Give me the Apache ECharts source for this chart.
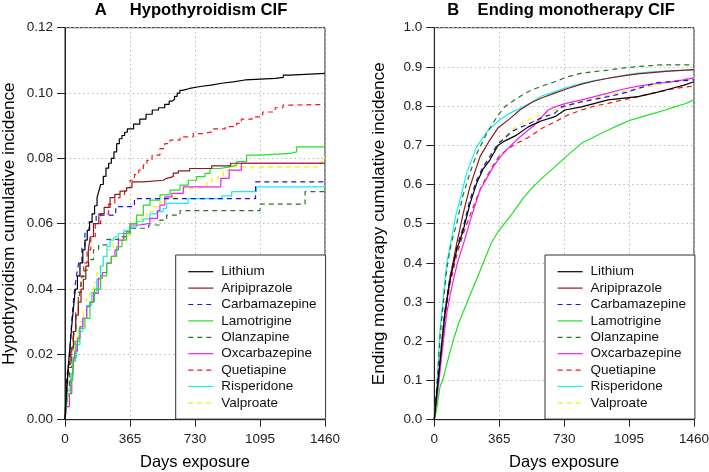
<!DOCTYPE html>
<html>
<head>
<meta charset="utf-8">
<script src="https://cdn.jsdelivr.net/npm/echarts@6/dist/echarts.min.js"></script>
<style>
html,body{margin:0;padding:0;background:#fff;}
#chart{width:709px;height:472px;}
</style>
</head>
<body>
<div id="chart"></div>
<script>
// ---------- data ----------
const drugs = ['Lithium','Aripiprazole','Carbamazepine','Lamotrigine','Olanzapine','Oxcarbazepine','Quetiapine','Risperidone','Valproate'];
const xTicks = [0, 365, 730, 1095, 1460];
const hypoTicks = [0, 0.02, 0.04, 0.06, 0.08, 0.10, 0.12];
const endTicks = [0, 0.1, 0.2, 0.3, 0.4, 0.5, 0.6, 0.7, 0.8, 0.9, 1.0];

// Panel A: Hypothyroidism CIF  [day, cumulative incidence]
const hypoLithium = [[0,0],[4,0.005],[10,0.01],[17,0.015],[24,0.02],[32,0.025],[40,0.03],[49,0.035],[58,0.04],[70,0.044],[84,0.048],[100,0.052],[112,0.055],[125,0.058],[138,0.0605],[152,0.063],[166,0.0655],[180,0.068],[190,0.070],[200,0.072],[215,0.0745],[230,0.077],[245,0.0785],[260,0.080],[275,0.082],[290,0.0845],[305,0.086],[320,0.087],[335,0.088],[350,0.089],[385,0.0905],[420,0.092],[455,0.0935],[490,0.0948],[525,0.0955],[560,0.0965],[585,0.0975],[600,0.098],[615,0.099],[630,0.100],[645,0.1008],[660,0.1014],[700,0.102],[760,0.1024],[820,0.103],[880,0.1034],[945,0.104],[1010,0.1042],[1070,0.1045],[1180,0.1048],[1226,0.1055],[1263,0.106],[1460,0.106]];
const hypoAripiprazole = [[0,0],[5,0.005],[12,0.011],[19,0.017],[33,0.022],[47,0.027],[60,0.032],[75,0.036],[90,0.040],[103,0.043],[117,0.047],[131,0.052],[142,0.056],[160,0.060],[190,0.063],[220,0.065],[253,0.068],[280,0.069],[309,0.070],[346,0.071],[376,0.0728],[440,0.0733],[552,0.0739],[571,0.0744],[608,0.0755],[636,0.0762],[700,0.0769],[824,0.0777],[930,0.0785],[1460,0.0785]];
const hypoCarbamazepine = [[0,0],[5,0.007],[10,0.013],[20,0.017],[28,0.021],[33,0.026],[38,0.0305],[47,0.036],[56,0.0407],[67,0.045],[77,0.048],[95,0.053],[112,0.057],[120,0.058],[135,0.0606],[175,0.0626],[285,0.0652],[390,0.0677],[1070,0.0728],[1460,0.0728]];
const hypoLamotrigine = [[0,0],[8,0.004],[18,0.008],[30,0.012],[44,0.018],[58,0.024],[80,0.028],[112,0.031],[140,0.036],[165,0.040],[200,0.044],[234,0.048],[260,0.050],[290,0.053],[320,0.055],[346,0.057],[365,0.060],[402,0.0626],[440,0.0657],[477,0.0672],[533,0.0688],[590,0.0703],[646,0.0718],[692,0.0733],[739,0.0744],[786,0.0754],[814,0.0769],[870,0.0774],[926,0.078],[964,0.079],[1020,0.081],[1095,0.0815],[1263,0.082],[1301,0.0835],[1460,0.0835]];
const hypoOlanzapine = [[0,0],[5,0.005],[12,0.01],[25,0.016],[38,0.022],[50,0.027],[62,0.032],[75,0.036],[84,0.039],[95,0.0438],[112,0.0458],[133,0.049],[160,0.052],[189,0.0535],[235,0.0552],[300,0.056],[340,0.0575],[365,0.0586],[470,0.0596],[533,0.0611],[571,0.0626],[646,0.064],[1095,0.066],[1348,0.0698],[1460,0.0698]];
const hypoOxcarbazepine = [[0,0],[10,0.004],[25,0.008],[38,0.012],[47,0.017],[56,0.021],[70,0.025],[84,0.0285],[100,0.031],[122,0.0346],[140,0.036],[159,0.0387],[187,0.0433],[210,0.045],[234,0.0479],[260,0.050],[281,0.052],[300,0.055],[330,0.057],[365,0.0596],[420,0.0601],[477,0.0616],[520,0.064],[533,0.0657],[561,0.0682],[600,0.0693],[664,0.0713],[875,0.0739],[922,0.0764],[990,0.0785],[1460,0.0785]];
const hypoQuetiapine = [[0,0],[5,0.005],[10,0.009],[20,0.015],[30,0.02],[45,0.027],[60,0.033],[75,0.039],[90,0.044],[105,0.048],[124,0.052],[145,0.056],[170,0.060],[200,0.063],[245,0.066],[280,0.068],[309,0.069],[335,0.071],[365,0.0733],[390,0.075],[414,0.0764],[440,0.078],[460,0.0794],[489,0.081],[533,0.083],[560,0.0845],[590,0.0856],[646,0.0866],[720,0.0876],[780,0.0882],[833,0.089],[900,0.0897],[964,0.0907],[990,0.092],[1050,0.0927],[1110,0.0942],[1180,0.0955],[1224,0.0963],[1265,0.0965],[1460,0.0965]];
const hypoRisperidone = [[0,0],[5,0.004],[15,0.009],[30,0.014],[47,0.019],[65,0.023],[84,0.027],[100,0.031],[122,0.035],[150,0.039],[178,0.043],[200,0.047],[215,0.050],[235,0.053],[253,0.055],[275,0.056],[300,0.057],[330,0.058],[365,0.059],[402,0.0606],[440,0.0615],[477,0.063],[515,0.0637],[552,0.0647],[571,0.0662],[692,0.0677],[880,0.0685],[936,0.0698],[1075,0.0713],[1460,0.0713]];
const hypoValproate = [[0,0],[5,0.004],[15,0.009],[25,0.012],[38,0.0152],[50,0.02],[66,0.0254],[85,0.03],[103,0.0336],[120,0.037],[140,0.0397],[160,0.042],[178,0.0448],[195,0.047],[215,0.0499],[240,0.052],[271,0.054],[300,0.0555],[327,0.0565],[365,0.0601],[400,0.0611],[430,0.062],[459,0.0637],[496,0.0652],[533,0.0667],[571,0.0682],[627,0.0693],[664,0.0708],[720,0.0713],[796,0.0725],[824,0.0739],[861,0.0746],[890,0.0764],[926,0.0774],[1430,0.0774],[1440,0.079],[1455,0.0805],[1460,0.0805]];

// Panel B: Ending monotherapy CIF  [day, cumulative incidence]
const endLithium = [[0,0],[10,0.05],[22,0.101],[41,0.186],[60,0.271],[88,0.356],[126,0.433],[163,0.484],[200,0.55],[238,0.603],[275,0.64],[313,0.663],[359,0.70],[400,0.712],[463,0.726],[528,0.747],[600,0.762],[678,0.773],[735,0.79],[828,0.798],[977,0.816],[1145,0.824],[1250,0.835],[1333,0.845],[1400,0.853],[1460,0.862]];
const endAripiprazole = [[0,0],[10,0.05],[22,0.105],[41,0.19],[60,0.275],[88,0.36],[126,0.45],[163,0.527],[200,0.594],[257,0.671],[313,0.714],[359,0.745],[425,0.768],[481,0.79],[547,0.809],[610,0.822],[678,0.833],[750,0.845],[828,0.856],[900,0.864],[977,0.871],[1060,0.877],[1145,0.882],[1240,0.886],[1333,0.89],[1460,0.893]];
const endCarbamazepine = [[0,0],[10,0.055],[22,0.11],[41,0.195],[60,0.28],[88,0.365],[126,0.44],[163,0.492],[200,0.56],[238,0.611],[275,0.645],[313,0.671],[359,0.705],[387,0.714],[435,0.735],[480,0.745],[547,0.758],[600,0.77],[678,0.782],[715,0.798],[828,0.811],[977,0.824],[1080,0.835],[1145,0.845],[1250,0.86],[1350,0.863],[1460,0.867]];
const endLamotrigine = [[0,0],[13,0.025],[32,0.084],[50,0.105],[75,0.15],[105,0.2],[140,0.25],[185,0.3],[230,0.35],[275,0.4],[320,0.45],[359,0.48],[440,0.527],[500,0.565],[555,0.594],[620,0.622],[678,0.645],[750,0.675],[828,0.705],[900,0.722],[977,0.739],[1040,0.752],[1108,0.765],[1170,0.773],[1239,0.782],[1300,0.79],[1352,0.798],[1410,0.806],[1460,0.816]];
const endOlanzapine = [[0,0],[10,0.06],[22,0.135],[32,0.21],[51,0.3],[70,0.385],[95,0.45],[126,0.501],[160,0.57],[200,0.629],[240,0.68],[300,0.735],[359,0.777],[400,0.8],[453,0.816],[500,0.83],[547,0.841],[610,0.852],[678,0.862],[750,0.875],[828,0.884],[900,0.888],[977,0.892],[1060,0.897],[1145,0.901],[1277,0.905],[1460,0.905]];
const endOxcarbazepine = [[0,0],[10,0.03],[22,0.08],[41,0.16],[55,0.215],[70,0.271],[88,0.315],[107,0.356],[130,0.4],[168,0.455],[210,0.52],[257,0.586],[300,0.62],[331,0.645],[370,0.67],[410,0.69],[463,0.714],[528,0.739],[560,0.75],[600,0.77],[640,0.79],[678,0.798],[740,0.807],[828,0.816],[900,0.824],[977,0.833],[1060,0.843],[1145,0.851],[1240,0.857],[1333,0.862],[1400,0.867],[1460,0.872]];
const endQuetiapine = [[0,0],[10,0.045],[22,0.095],[41,0.18],[60,0.26],[88,0.345],[126,0.42],[163,0.475],[219,0.543],[260,0.59],[294,0.62],[330,0.648],[365,0.672],[410,0.69],[463,0.705],[528,0.72],[600,0.742],[678,0.76],[750,0.777],[828,0.79],[900,0.8],[977,0.807],[1060,0.816],[1145,0.824],[1240,0.834],[1333,0.843],[1400,0.848],[1460,0.851]];
const endRisperidone = [[0,0],[13,0.076],[22,0.144],[32,0.229],[51,0.314],[70,0.399],[95,0.458],[120,0.52],[144,0.56],[182,0.629],[238,0.696],[303,0.739],[369,0.765],[425,0.782],[481,0.794],[537,0.807],[600,0.825],[678,0.837],[750,0.848],[828,0.858],[900,0.865],[977,0.871],[1060,0.878],[1145,0.884],[1240,0.888],[1333,0.89],[1460,0.892]];
const endValproate = [[0,0],[10,0.05],[22,0.1],[41,0.185],[60,0.27],[88,0.355],[126,0.435],[163,0.49],[200,0.555],[238,0.61],[275,0.645],[313,0.675],[359,0.705],[400,0.725],[453,0.745],[500,0.758],[547,0.769],[610,0.78],[678,0.79],[750,0.8],[828,0.811],[900,0.82],[977,0.828],[1060,0.837],[1145,0.845],[1240,0.853],[1333,0.862],[1400,0.868],[1460,0.875]];

const hypoData = [hypoLithium, hypoAripiprazole, hypoCarbamazepine, hypoLamotrigine, hypoOlanzapine, hypoOxcarbazepine, hypoQuetiapine, hypoRisperidone, hypoValproate];
const endData = [endLithium, endAripiprazole, endCarbamazepine, endLamotrigine, endOlanzapine, endOxcarbazepine, endQuetiapine, endRisperidone, endValproate];

// ---------- styles ----------
const colors = ['#000000','#8B1A1A','#1515E8','#22E022','#1F7A1F','#F020F0','#F01818','#10F0F0','#F2F200'];
const dashed = [false,false,true,false,true,false,true,false,true];
const FONT = '"Liberation Sans", Arial, Helvetica, sans-serif';

function fmt(d){ return function(v){ return v.toFixed(d); }; }

function xAxis(gi){
  return {
    gridIndex: gi, type: 'value', min: xTicks[0], max: xTicks[xTicks.length-1], interval: 365,
    name: 'Days exposure', nameLocation: 'middle', nameGap: 34,
    nameTextStyle: {fontFamily: FONT, fontSize: 16.5, color: '#000'},
    axisLine: {show: true, lineStyle: {color: '#222', width: 1}},
    axisTick: {show: true, length: 7, lineStyle: {color: '#222'}},
    axisLabel: {fontFamily: FONT, fontSize: 13.5, color: '#222', margin: 13,
      formatter: function(v){ return xTicks.indexOf(v) >= 0 ? String(v) : ''; }},
    splitLine: {show: true, lineStyle: {color: '#bdbdbd', type: [1.5, 3], width: 1}}
  };
}
function yAxis(gi, ticks, dec, name){
  return {
    gridIndex: gi, type: 'value', min: ticks[0], max: ticks[ticks.length-1], interval: ticks[1]-ticks[0],
    name: name, nameLocation: 'middle', nameGap: 47, nameRotate: 90,
    nameTextStyle: {fontFamily: FONT, fontSize: 17.2, color: '#000'},
    axisLine: {show: true, lineStyle: {color: '#222', width: 1}},
    axisTick: {show: true, length: 8, lineStyle: {color: '#222'}},
    axisLabel: {fontFamily: FONT, fontSize: 13.5, color: '#222', margin: 12, formatter: fmt(dec)},
    splitLine: {show: true, lineStyle: {color: '#bdbdbd', type: [1.5, 3], width: 1}}
  };
}

const series = [];
drugs.forEach(function(name, i){
  series.push({
    name: name, type: 'line', xAxisIndex: 0, yAxisIndex: 0, data: hypoData[i],
    step: 'end', symbol: 'none', showSymbol: false, animation: false, z: 10 - i,
    lineStyle: {color: colors[i], width: 1.2, type: dashed[i] ? [5, 4] : 'solid'},
    itemStyle: {color: colors[i]}
  });
  series.push({
    name: name, type: 'line', xAxisIndex: 1, yAxisIndex: 1, data: endData[i],
    symbol: 'none', showSymbol: false, animation: false, z: 10 - i,
    lineStyle: {color: colors[i], width: 1.2, type: dashed[i] ? [5, 4] : 'solid'},
    itemStyle: {color: colors[i]}
  });
});

function legend(left){
  return {
    data: drugs, orient: 'vertical', left: left, top: 255,
    itemWidth: 25, itemHeight: 10, itemGap: 0,
    padding: [8.5, 9, 8, 12],
    borderColor: '#333', borderWidth: 1, backgroundColor: '#fff', borderRadius: 0,
    selectedMode: false,
    itemStyle: {opacity: 0, borderWidth: 0},
    lineStyle: {width: 1.2},
    textStyle: {fontFamily: FONT, fontSize: 13.5, color: '#111', lineHeight: 16.4, padding: [0, 0, 0, 3]}
  };
}

const chart = echarts.init(document.getElementById('chart'), null, {renderer: 'canvas'});
chart.setOption({
  animation: false,
  backgroundColor: '#fff',
  title: [
    {text: 'A     Hypothyroidism CIF', left: 191, top: 2, textAlign: 'center', padding: 0,
     textStyle: {fontFamily: FONT, fontSize: 16.6, fontWeight: 'bold', color: '#000'}},
    {text: 'B    Ending monotherapy CIF', left: 561, top: 2, textAlign: 'center', padding: 0,
     textStyle: {fontFamily: FONT, fontSize: 16.6, fontWeight: 'bold', color: '#000'}}
  ],
  grid: [
    {left: 65, right: 384, top: 27.7, bottom: 52.3, show: true, borderColor: '#222', borderWidth: 1, backgroundColor: 'transparent', containLabel: false, outerBoundsMode: 'none'},
    {left: 434.3, right: 15, top: 27.7, bottom: 52.3, show: true, borderColor: '#222', borderWidth: 1, backgroundColor: 'transparent', containLabel: false, outerBoundsMode: 'none'}
  ],
  xAxis: [xAxis(0), xAxis(1)],
  yAxis: [yAxis(0, hypoTicks, 2, 'Hypothyroidism cumulative incidence'),
          yAxis(1, endTicks, 1, 'Ending monotherapy cumulative incidence')],
  legend: [legend(175.7), legend(545)],
  series: series
});
</script>
</body>
</html>
